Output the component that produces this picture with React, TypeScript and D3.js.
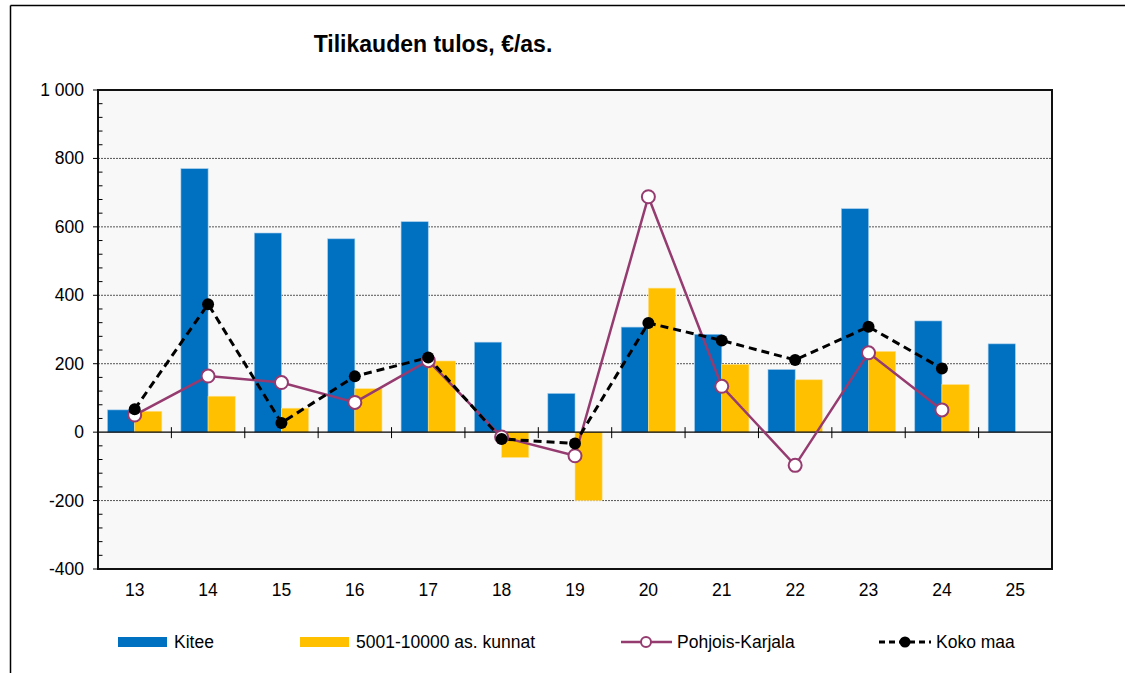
import React from "react";
import * as d3 from "d3";

const width = 1125;
const height = 673;
const margin = { top: 90, right: 73, bottom: 104, left: 98 };

const categories = ["13", "14", "15", "16", "17", "18", "19", "20", "21", "22", "23", "24", "25"];
const kitee = [65, 770, 582, 565, 615, 263, 113, 307, 286, 183, 653, 325, 258];
const kunnat: (number | null)[] = [61, 105, 70, 127, 208, -74, -200, 421, 198, 153, 236, 139, null];
const pohjoisKarjala: (number | null)[] = [50, 164, 145, 87, 209, -14, -69, 688, 134, -97, 232, 65, null];
const kokoMaa: (number | null)[] = [67, 374, 27, 163, 218, -20, -33, 319, 268, 211, 308, 186, null];
const yTicks = [1000, 800, 600, 400, 200, 0, -200, -400];

const fmt = (v: number) => (Math.abs(v) >= 1000 ? d3.format(",")(v).replace(",", " ") : String(v));

const BLUE = "#0070C0";
const YELLOW = "#FFC000";
const PURPLE = "#953B70";
const FONT = "Liberation Sans, Arial, sans-serif";

export default function App() {
  const x = d3
    .scaleBand<string>()
    .domain(categories)
    .range([margin.left, width - margin.right]);
  const y = d3
    .scaleLinear()
    .domain([-400, 1000])
    .range([height - margin.bottom, margin.top]);

  const bw = x.bandwidth();
  const barW = bw * 0.37;
  const cx = (c: string) => (x(c) as number) + bw / 2;
  const y0 = y(0);

  const line = d3
    .line<number | null>()
    .defined((d) => d !== null)
    .x((_, i) => cx(categories[i]))
    .y((d) => y(d as number));

  const minorTicks = d3.range(-400, 1001, 40).filter((v) => v % 200 !== 0);

  const plotL = margin.left;
  const plotR = width - margin.right;
  const plotT = margin.top;
  const plotB = height - margin.bottom;

  return (
    <svg
      width={width}
      height={height}
      style={{ position: "absolute", left: 0, top: 0, background: "#fff" }}
      fontFamily={FONT}
    >
      {/* outer frame */}
      <line x1={10.5} y1={5.5} x2={width} y2={5.5} stroke="#000" strokeWidth={1.5} />
      <line x1={10.5} y1={5.5} x2={10.5} y2={height} stroke="#000" strokeWidth={1.5} />

      <text x={433} y={52} textAnchor="middle" fontSize={23} fontWeight="bold" fill="#000">
        Tilikauden tulos, €/as.
      </text>

      {/* plot area */}
      <rect x={plotL} y={plotT} width={plotR - plotL} height={plotB - plotT} fill="#f8f8f8" />

      {yTicks
        .filter((v) => v !== 0 && v !== 1000 && v !== -400)
        .map((v) => (
          <line
            key={"g" + v}
            x1={plotL}
            x2={plotR}
            y1={y(v)}
            y2={y(v)}
            stroke="#555"
            strokeWidth={1}
            strokeDasharray="2 1"
          />
        ))}

      {/* bars */}
      {categories.map((c, i) => (
        <g key={"b" + c}>
          <rect
            x={cx(c) - barW}
            y={Math.min(y(kitee[i]), y0)}
            width={barW}
            height={Math.abs(y(kitee[i]) - y0)}
            fill={BLUE}
            stroke="#9cc8ea"
            strokeWidth={0.6}
          />
          {kunnat[i] !== null && (
            <rect
              x={cx(c)}
              y={Math.min(y(kunnat[i] as number), y0)}
              width={barW}
              height={Math.abs(y(kunnat[i] as number) - y0)}
              fill={YELLOW}
              stroke="#ffe08a"
              strokeWidth={0.6}
            />
          )}
        </g>
      ))}

      {/* zero line and category ticks */}
      <line x1={plotL} x2={plotR} y1={y0} y2={y0} stroke="#000" strokeWidth={1.3} />
      {categories.slice(1).map((c) => (
        <line key={"t" + c} x1={x(c)} x2={x(c)} y1={y0 - 5} y2={y0 + 6} stroke="#000" strokeWidth={1} />
      ))}

      {/* lines */}
      <path d={line(pohjoisKarjala) || ""} fill="none" stroke={PURPLE} strokeWidth={2.5} />
      <path
        d={line(kokoMaa) || ""}
        fill="none"
        stroke="#000"
        strokeWidth={3}
        strokeDasharray="8 5"
      />
      {pohjoisKarjala.map((v, i) =>
        v === null ? null : (
          <circle key={"p" + i} cx={cx(categories[i])} cy={y(v)} r={6.5} fill="#fff" stroke={PURPLE} strokeWidth={2} />
        )
      )}
      {kokoMaa.map((v, i) =>
        v === null ? null : <circle key={"k" + i} cx={cx(categories[i])} cy={y(v)} r={6} fill="#000" />
      )}

      {/* plot border */}
      <rect
        x={plotL}
        y={plotT}
        width={plotR - plotL}
        height={plotB - plotT}
        fill="none"
        stroke="#111"
        strokeWidth={2}
      />

      {/* y axis ticks */}
      {yTicks.map((v) => (
        <g key={"y" + v}>
          <line x1={plotL - 5} x2={plotL} y1={y(v)} y2={y(v)} stroke="#000" strokeWidth={1} />
          <text x={plotL - 14} y={y(v) + 6} textAnchor="end" fontSize={17.5} fill="#000">
            {fmt(v)}
          </text>
        </g>
      ))}
      {minorTicks.map((v) => (
        <line key={"m" + v} x1={plotL} x2={plotL + 4.5} y1={y(v)} y2={y(v)} stroke="#000" strokeWidth={1} />
      ))}

      {/* x labels */}
      {categories.map((c) => (
        <text key={"x" + c} x={cx(c)} y={plotB + 27} textAnchor="middle" fontSize={17.5} fill="#000">
          {c}
        </text>
      ))}

      {/* legend */}
      <g fontSize={17.5} fill="#000">
        <rect x={118} y={637} width={49} height={10} fill={BLUE} />
        <text x={174} y={648}>Kitee</text>
        <rect x={300} y={637} width={49} height={10} fill={YELLOW} />
        <text x={356} y={648}>5001-10000 as. kunnat</text>
        <line x1={621} x2={672} y1={642} y2={642} stroke={PURPLE} strokeWidth={2.5} />
        <circle cx={646} cy={642} r={5} fill="#fff" stroke={PURPLE} strokeWidth={2} />
        <text x={677} y={648}>Pohjois-Karjala</text>
        <line x1={879} x2={931} y1={642} y2={642} stroke="#000" strokeWidth={3} strokeDasharray="6 4" />
        <circle cx={905} cy={642} r={5.5} fill="#000" />
        <text x={936} y={648}>Koko maa</text>
      </g>
    </svg>
  );
}
